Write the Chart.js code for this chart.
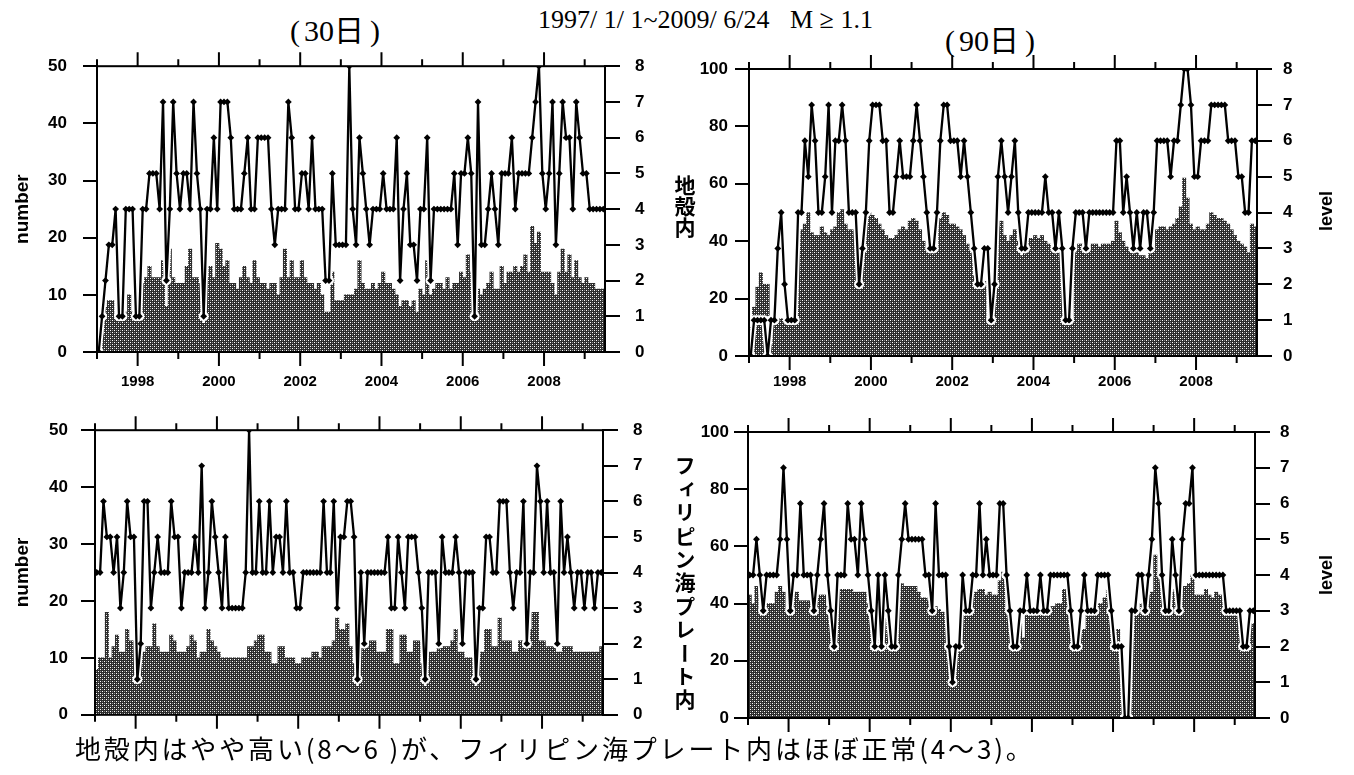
<!DOCTYPE html>
<html>
<head>
<meta charset="utf-8">
<script src="https://cdn.jsdelivr.net/npm/chart.js@4.4.1/dist/chart.umd.min.js"></script>
<style>
body { margin: 0; background: #fff; width: 1354px; height: 775px; position: relative; overflow: hidden; }
canvas { position: absolute; }
.t { position: absolute; white-space: nowrap; color: #000; line-height: 1; }
.serif { font-family: "Liberation Serif", "Noto Sans CJK JP", serif; }
.vert { writing-mode: vertical-rl; font: bold 21px "Noto Sans CJK JP", sans-serif; }
.lv { font: bold 18px "Liberation Sans", Arial, sans-serif; transform: translate(-50%, -50%) rotate(-90deg); }
</style>
</head>
<body>
<div class="t serif" style="left:290px;top:16px;font-size:30px">(<span style="margin-left:4px">30日</span><span style="margin-left:6px">)</span></div>
<div class="t serif" style="left:538px;top:7px;font-size:26px">1997/ 1/ 1~2009/ 6/24</div>
<div class="t serif" style="left:790px;top:7px;font-size:26px">M ≥ 1.1</div>
<div class="t serif" style="left:945px;top:26px;font-size:30px">(<span style="margin-left:4px">90日</span><span style="margin-left:6px">)</span></div>

<canvas id="tl" width="680" height="370" style="left:0;top:40px"></canvas>
<canvas id="tr" width="664" height="370" style="left:690px;top:40px"></canvas>
<canvas id="bl" width="680" height="335" style="left:0;top:405px"></canvas>
<canvas id="br" width="664" height="335" style="left:690px;top:405px"></canvas>

<div class="t vert" style="left:670px;top:175px">地殻内</div>
<div class="t vert" style="left:670px;top:455px;letter-spacing:2.4px">フィリピン海プレート内</div>
<div class="t lv" style="left:1326px;top:211px">level</div>
<div class="t lv" style="left:1326px;top:575px">level</div>
<div class="t" id="note" style="left:75px;top:729px;font:26px 'Noto Sans CJK JP',sans-serif">地殻内はやや高い(8～6 )が、フィリピン海プレート内はほぼ正常(4～3)。</div>

<script>
// monthly windows, 1997/1 .. 2009/6
const months = [];
for (let i = 0; i < 150; i++) months.push(1997 + (i + 0.5) / 12);
const years = [1997, 1998, 1999, 2000, 2001, 2002, 2003, 2004, 2005, 2006, 2007, 2008, 2009];
const yearLabels = [1998, 2000, 2002, 2004, 2006, 2008];

// 地殻内 30日
const crustNum30 = [
  0, 3, 8, 9, 9, 6, 6, 7, 7, 10,
  7, 6, 6, 12, 13, 15, 13, 13, 13, 16,
  8, 18, 13, 12, 12, 12, 15, 18, 13, 13,
  12, 5, 13, 15, 13, 19, 18, 15, 16, 12,
  12, 11, 13, 15, 13, 12, 16, 13, 12, 12,
  11, 12, 12, 10, 13, 18, 13, 16, 13, 13,
  16, 13, 12, 12, 11, 12, 10, 7, 7, 14,
  9, 9, 9, 10, 10, 10, 11, 16, 12, 11,
  11, 12, 11, 12, 14, 12, 12, 11, 10, 8,
  9, 9, 8, 9, 7, 11, 10, 16, 10, 11,
  12, 12, 11, 13, 11, 12, 12, 14, 13, 17,
  14, 6, 11, 10, 11, 12, 14, 11, 11, 15,
  12, 14, 14, 15, 14, 15, 17, 14, 22, 19,
  21, 14, 14, 14, 12, 10, 14, 18, 14, 17,
  13, 16, 13, 12, 13, 12, 12, 11, 11, 11
];
const crustLvl30 = [
  0, 1, 2, 3, 3, 4, 1, 1, 4, 4,
  4, 1, 1, 4, 4, 5, 5, 5, 4, 7,
  2, 4, 7, 5, 4, 5, 5, 4, 7, 5,
  4, 1, 4, 4, 6, 4, 7, 7, 7, 6,
  4, 4, 4, 5, 6, 4, 4, 6, 6, 6,
  6, 4, 3, 4, 4, 4, 7, 6, 4, 4,
  5, 5, 4, 6, 4, 4, 4, 2, 2, 5,
  3, 3, 3, 3, 8, 4, 3, 6, 5, 4,
  3, 4, 4, 4, 5, 4, 4, 4, 6, 2,
  4, 5, 3, 3, 2, 4, 4, 6, 2, 4,
  4, 4, 4, 4, 4, 5, 3, 5, 5, 6,
  5, 1, 7, 3, 3, 4, 5, 4, 3, 5,
  5, 5, 6, 4, 5, 5, 5, 5, 6, 7,
  8, 5, 4, 5, 7, 3, 5, 7, 6, 6,
  4, 7, 6, 5, 5, 4, 4, 4, 4, 4
];

// 地殻内 90日
const crustNum90 = [
  10, 17, 24, 29, 25, 25, 4, 12, 12, 13,
  12, 12, 12, 13, 44, 44, 46, 50, 43, 42,
  42, 45, 43, 42, 44, 45, 50, 51, 46, 44,
  44, 42, 25, 40, 50, 50, 49, 48, 46, 44,
  42, 41, 41, 42, 44, 45, 44, 47, 48, 47,
  44, 40, 38, 37, 37, 37, 48, 50, 49, 46,
  46, 45, 44, 42, 39, 38, 28, 24, 24, 26,
  12, 12, 26, 45, 47, 42, 40, 42, 44, 40,
  35, 38, 41, 41, 42, 41, 42, 40, 39, 38,
  38, 38, 39, 12, 12, 12, 38, 39, 39, 40,
  38, 39, 39, 38, 39, 39, 39, 40, 47, 43,
  40, 38, 38, 36, 38, 35, 35, 34, 36, 38,
  44, 45, 45, 44, 45, 46, 48, 52, 62, 55,
  46, 44, 45, 44, 44, 46, 50, 49, 48, 48,
  47, 46, 44, 42, 40, 39, 38, 36, 46, 45
];
const crustLvl90 = [
  0, 1, 1, 1, 1, 0, 1, 1, 3, 4,
  2, 1, 1, 1, 4, 4, 6, 5, 7, 6,
  4, 4, 5, 7, 4, 6, 6, 7, 6, 4,
  4, 4, 2, 3, 4, 6, 7, 7, 7, 6,
  6, 4, 4, 5, 6, 5, 5, 5, 6, 7,
  6, 5, 4, 3, 3, 4, 6, 7, 7, 6,
  6, 6, 5, 6, 5, 4, 3, 2, 2, 3,
  3, 1, 2, 5, 6, 5, 4, 5, 6, 4,
  3, 3, 4, 4, 4, 4, 4, 5, 4, 4,
  3, 4, 3, 1, 1, 3, 4, 4, 4, 3,
  4, 4, 4, 4, 4, 4, 4, 4, 6, 6,
  4, 5, 4, 3, 4, 3, 4, 4, 3, 4,
  6, 6, 6, 6, 5, 6, 6, 7, 8, 8,
  7, 5, 5, 6, 6, 6, 7, 7, 7, 7,
  7, 6, 6, 6, 5, 5, 4, 4, 6, 6
];

// フィリピン海プレート内 30日
const plateNum30 = [
  8, 10, 10, 18, 10, 12, 14, 11, 11, 15,
  13, 13, 7, 11, 11, 12, 12, 16, 12, 11,
  11, 11, 14, 13, 11, 11, 11, 12, 14, 13,
  10, 11, 11, 15, 13, 12, 11, 10, 10, 10,
  10, 10, 10, 10, 10, 12, 12, 13, 14, 14,
  11, 11, 9, 9, 12, 12, 10, 10, 10, 9,
  9, 10, 10, 10, 11, 11, 10, 12, 12, 12,
  13, 17, 15, 15, 16, 12, 9, 5, 13, 12,
  12, 13, 13, 11, 11, 11, 15, 15, 9, 9,
  14, 14, 11, 11, 13, 13, 9, 5, 11, 11,
  11, 16, 12, 12, 12, 13, 15, 11, 11, 10,
  10, 10, 5, 11, 11, 15, 15, 12, 12, 17,
  13, 13, 13, 11, 11, 13, 13, 15, 15, 18,
  18, 13, 13, 12, 12, 12, 11, 11, 12, 12,
  12, 11, 11, 11, 11, 11, 11, 11, 11, 12
];
const plateLvl30 = [
  4, 4, 6, 5, 5, 4, 5, 3, 4, 6,
  5, 5, 1, 2, 6, 6, 3, 4, 5, 4,
  4, 4, 6, 5, 5, 3, 4, 4, 4, 5,
  4, 7, 3, 4, 6, 5, 4, 3, 5, 3,
  3, 3, 3, 3, 4, 8, 4, 4, 6, 4,
  4, 6, 4, 5, 5, 4, 6, 4, 4, 3,
  3, 4, 4, 4, 4, 4, 4, 6, 4, 4,
  6, 3, 5, 5, 6, 6, 5, 1, 4, 2,
  4, 4, 4, 4, 4, 4, 5, 3, 3, 5,
  4, 3, 5, 5, 5, 4, 3, 1, 4, 4,
  4, 2, 5, 4, 4, 4, 5, 4, 2, 4,
  4, 4, 1, 3, 3, 5, 5, 4, 4, 6,
  6, 6, 4, 3, 4, 4, 6, 2, 4, 4,
  7, 6, 4, 6, 4, 4, 2, 6, 4, 5,
  4, 3, 4, 4, 3, 4, 4, 3, 4, 4
];

// フィリピン海プレート内 90日
const plateNum90 = [
  43, 40, 46, 37, 37, 40, 40, 40, 44, 46,
  44, 37, 44, 44, 44, 41, 41, 41, 41, 37,
  42, 43, 43, 39, 39, 25, 41, 45, 45, 45,
  45, 44, 44, 44, 44, 40, 38, 25, 41, 25,
  40, 36, 24, 24, 39, 47, 46, 46, 46, 46,
  44, 42, 42, 41, 39, 39, 38, 37, 37, 25,
  12, 23, 25, 38, 37, 37, 44, 44, 45, 45,
  43, 44, 43, 43, 48, 51, 38, 38, 24, 24,
  33, 28, 37, 37, 37, 37, 37, 37, 39, 39,
  39, 40, 40, 45, 45, 37, 24, 24, 31, 31,
  36, 36, 36, 40, 40, 42, 45, 37, 31, 31,
  25, 0, 0, 25, 37, 38, 40, 42, 43, 44,
  57, 50, 46, 42, 40, 44, 45, 37, 46, 46,
  47, 50, 43, 43, 43, 45, 43, 42, 44, 43,
  43, 38, 37, 37, 37, 36, 24, 24, 33, 33
];
const plateLvl90 = [
  4, 4, 5, 4, 3, 4, 4, 4, 4, 5,
  7, 5, 3, 4, 4, 6, 4, 4, 4, 3,
  4, 5, 6, 4, 3, 2, 4, 4, 4, 6,
  5, 5, 4, 6, 5, 4, 3, 2, 4, 2,
  4, 3, 2, 2, 4, 5, 6, 5, 5, 5,
  5, 5, 4, 4, 3, 6, 4, 4, 4, 2,
  1, 2, 2, 4, 3, 3, 4, 4, 6, 4,
  5, 4, 4, 4, 6, 6, 4, 3, 2, 2,
  3, 3, 4, 3, 3, 3, 4, 3, 3, 4,
  4, 4, 4, 4, 4, 3, 2, 2, 3, 4,
  3, 3, 3, 4, 4, 4, 4, 3, 2, 2,
  2, 0, 0, 3, 3, 4, 4, 3, 4, 5,
  7, 6, 4, 3, 3, 5, 4, 3, 5, 6,
  6, 7, 4, 4, 4, 4, 4, 4, 4, 4,
  4, 3, 3, 3, 3, 3, 2, 2, 3, 3
];

const numTicks50 = [0, 10, 20, 30, 40, 50];
const numTicks100 = [0, 20, 40, 60, 80, 100];
const levelTicks = [0, 1, 2, 3, 4, 5, 6, 7, 8];

const tickFont = { family: 'Liberation Sans', weight: 'bold', size: 17 };

// frame and year ticks (long on even years, short on odd)
const framePlugin = {
  id: 'framePlugin',
  afterDatasetsDraw(chart) {
    const { ctx, chartArea: a, scales: { x } } = chart;
    ctx.save();
    ctx.strokeStyle = '#000';
    ctx.lineWidth = 2;
    ctx.strokeRect(a.left, a.top, a.right - a.left, a.bottom - a.top);
    years.forEach(yr => {
      const px = x.getPixelForValue(yr);
      const len = yr % 2 === 0 ? 14 : 7;
      ctx.beginPath();
      ctx.moveTo(px, a.bottom); ctx.lineTo(px, a.bottom + len);
      ctx.moveTo(px, a.top); ctx.lineTo(px, a.top - len);
      ctx.stroke();
    });
    ctx.restore();
  }
};

function stipple(id) {
  const tile = document.createElement('canvas');
  tile.width = 4; tile.height = 4;
  const tc = tile.getContext('2d');
  tc.fillStyle = '#2c2c2c';
  tc.fillRect(0, 0, 4, 4);
  tc.fillStyle = '#ffffff';
  tc.fillRect(0, 0, 1, 1);
  tc.fillRect(2, 2, 1, 1);
  tc.fillStyle = '#8a8a8a';
  tc.fillRect(2, 0, 1, 1);
  tc.fillRect(0, 2, 1, 1);
  return document.getElementById(id).getContext('2d').createPattern(tile, 'repeat');
}

function panel(id, nums, lvls, numTicks, f, showYears, numberTitle) {
  const pts = arr => arr.map((v, i) => ({ x: months[i], y: v }));
  new Chart(document.getElementById(id), {
    type: 'bar',
    data: {
      datasets: [
        { type: 'line', data: pts(lvls), yAxisID: 'y2', borderColor: '#000', borderWidth: 2.3,
          pointStyle: 'rectRot', pointRadius: 3.4, pointBackgroundColor: '#000', pointBorderWidth: 0,
          tension: 0, order: 1 },
        { type: 'line', data: pts(lvls), yAxisID: 'y2', borderColor: '#fff', borderWidth: 6,
          pointStyle: 'circle', pointRadius: 5, pointBackgroundColor: '#fff', pointBorderWidth: 0,
          tension: 0, order: 2 },
        { type: 'bar', data: pts(nums), yAxisID: 'y', backgroundColor: stipple(id), borderWidth: 0,
          barPercentage: 1, categoryPercentage: 1, order: 3 }
      ]
    },
    options: {
      responsive: false,
      animation: false,
      devicePixelRatio: 1,
      layout: { padding: { top: f.padTop, left: 0, right: 0, bottom: 0 } },
      plugins: { legend: { display: false }, tooltip: { enabled: false } },
      scales: {
        x: {
          type: 'linear', min: 1997, max: 2009.5, offset: false,
          grid: { display: false, drawTicks: false },
          border: { display: false },
          afterBuildTicks: s => { s.ticks = years.map(v => ({ value: v })); },
          ticks: {
            display: showYears, autoSkip: false, maxRotation: 0, padding: f.yearPad,
            font: { family: 'Liberation Sans', weight: 'bold', size: 15 }, color: '#000',
            callback: v => yearLabels.includes(v) ? String(v) : ''
          },
          afterFit: s => { s.height = f.bottomH; }
        },
        y: {
          position: 'left', min: 0, max: numTicks[numTicks.length - 1],
          afterBuildTicks: s => { s.ticks = numTicks.map(v => ({ value: v })); },
          grid: { drawOnChartArea: false, tickLength: 14, tickWidth: 2, lineWidth: 2, tickColor: '#000' },
          border: { display: true, color: '#000', width: 2 },
          ticks: { padding: f.lPad, font: tickFont, color: '#000' },
          title: { display: numberTitle, text: 'number', color: '#000',
                   font: { family: 'Liberation Sans', weight: 'bold', size: 19 }, padding: { top: 11, bottom: 0 } },
          afterFit: s => { s.width = f.leftW; }
        },
        y2: {
          position: 'right', min: 0, max: 8,
          afterBuildTicks: s => { s.ticks = levelTicks.map(v => ({ value: v })); },
          grid: { drawOnChartArea: false, tickLength: 15, tickWidth: 2, lineWidth: 2, tickColor: '#000' },
          border: { display: true, color: '#000', width: 2 },
          ticks: { padding: f.rPad, font: tickFont, color: '#000' },
          afterFit: s => { s.width = f.rightW; }
        }
      }
    },
    plugins: [framePlugin]
  });
}

panel('tl', crustNum30, crustLvl30, numTicks50,
  { leftW: 97, rightW: 75, padTop: 25, bottomH: 58, lPad: 16, rPad: 15, yearPad: 21 }, true, true);
panel('tr', crustNum90, crustLvl90, numTicks100,
  { leftW: 59, rightW: 97, padTop: 29, bottomH: 54, lPad: 7, rPad: 11, yearPad: 17 }, true, false);
panel('bl', plateNum30, plateLvl30, numTicks50,
  { leftW: 95, rightW: 77, padTop: 22, bottomH: 25, lPad: 13, rPad: 15, yearPad: 0 }, false, true);
panel('br', plateNum90, plateLvl90, numTicks100,
  { leftW: 58, rightW: 99, padTop: 27, bottomH: 22, lPad: 5, rPad: 10, yearPad: 0 }, false, false);

// stretch the note to the width it has in the print
const note = document.getElementById('note');
const chars = note.textContent.length;
note.style.letterSpacing = ((960 - note.offsetWidth) / chars) + 'px';
</script>
</body>
</html>
